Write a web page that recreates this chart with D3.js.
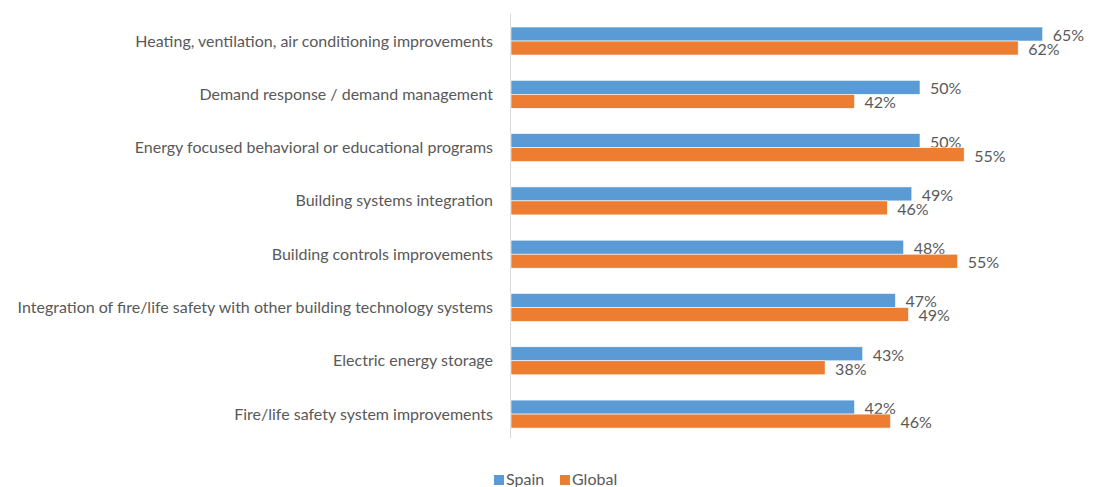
<!DOCTYPE html>
<html><head><meta charset="utf-8">
<script src="https://cdn.jsdelivr.net/npm/d3@7/dist/d3.min.js"></script>
<style>body{margin:0;background:#fff}svg{display:block}</style>
</head><body><svg id="c" width="1098" height="487"></svg>
<script>
const categories = [
  "Heating, ventilation, air conditioning improvements",
  "Demand response / demand management",
  "Energy focused behavioral or educational programs",
  "Building systems integration",
  "Building controls improvements",
  "Integration of fire/life safety with other building technology systems",
  "Electric energy storage",
  "Fire/life safety system improvements"
];
const seriesNames = ["Spain", "Global"];
const spain = [65, 50, 50, 49, 48, 47, 43, 42];
const global = [62, 42, 55.4, 46, 54.6, 48.6, 38.4, 46.4];
const colors = ["#5B9BD5", "#ED7D31"];

const svg = d3.select("#c");
const font = "Lato, 'Open Sans', sans-serif";

// pick a font size so the longest label spans ~482px, like the reference
const probe = svg.append("text").attr("font-family", font).attr("font-size", 20)
  .text(categories[5]);
const w20 = probe.node().getComputedTextLength();
probe.remove();
const fs = Math.min(16, 20 * 482 / w20);

const x = d3.scaleLinear().domain([0, 70]).range([510, 510 + 70 * 8.18]);
const y = d3.scaleBand().domain(categories).range([13.7, 441.4]).paddingInner(0.4746).paddingOuter(0.25);
const sub = d3.scaleBand().domain(seriesNames).range([0, y.bandwidth()]);
const fmt = (v) => Math.round(v) + "%";

svg.append("line").attr("x1", 510.5).attr("x2", 510.5).attr("y1", 14).attr("y2", 438)
  .attr("stroke", "#d9d9d9").attr("stroke-width", 1);

const data = [spain, global];
seriesNames.forEach((s, si) => {
  const g = svg.append("g");
  g.selectAll("rect").data(categories).join("rect")
    .attr("x", x(0) + 1)
    .attr("y", (c) => y(c) + sub(s))
    .attr("width", (c, i) => x(data[si][i]) - x(0))
    .attr("height", sub.bandwidth())
    .attr("fill", colors[si])
    .attr("stroke", "#fff").attr("stroke-width", 0.6);
  g.selectAll("text").data(categories).join("text")
    .attr("x", (c, i) => x(data[si][i]) + 11)
    .attr("y", (c) => y(c) + sub(s) + sub.bandwidth())
    .attr("font-family", font).attr("font-size", fs).attr("fill", "#595959")
    .text((c, i) => fmt(data[si][i]));
});

svg.append("g").selectAll("text").data(categories).join("text")
  .attr("x", 493)
  .attr("y", (c) => y(c) + y.bandwidth() / 2 + 5.5)
  .attr("text-anchor", "end")
  .attr("font-family", font).attr("font-size", fs).attr("fill", "#595959")
  .text((c) => c);

const leg = svg.append("g");
const lx = [494, 560];
seriesNames.forEach((s, i) => {
  leg.append("rect").attr("x", lx[i]).attr("y", 475).attr("width", 10).attr("height", 10).attr("fill", colors[i]);
  leg.append("text").attr("x", lx[i] + 12).attr("y", 485)
    .attr("font-family", font).attr("font-size", fs).attr("fill", "#595959").text(s);
});
</script></body></html>
